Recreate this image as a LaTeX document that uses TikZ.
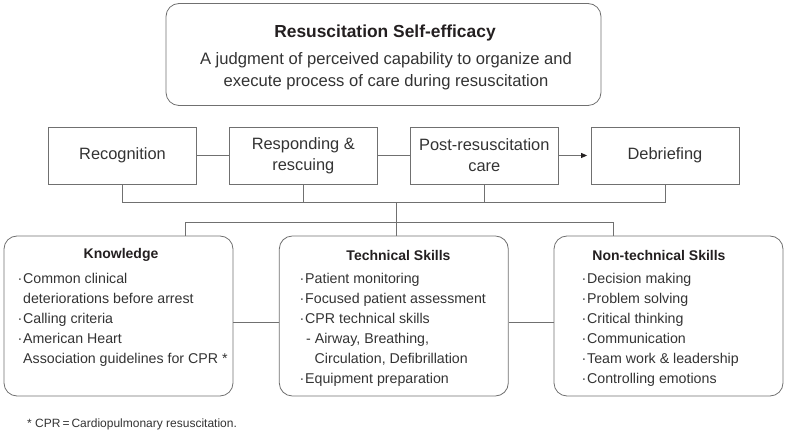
\documentclass[tikz,border=0pt]{standalone}
\usepackage{fontspec}
\setmainfont{Liberation Sans}
\usetikzlibrary{arrows.meta}
\definecolor{linegray}{HTML}{707070}
\definecolor{textgray}{HTML}{333333}
\definecolor{headblack}{HTML}{231F20}
\newcommand{\bulletdot}{\makebox[5.5pt][l]{\textperiodcentered}}
\newcommand{\contind}{\hspace*{5.5pt}}

\begin{document}
\begin{tikzpicture}[x=1pt,y=-1pt,
    line/.style={draw=linegray,line width=0.8pt},
    stagebox/.style={line,minimum width=148pt,minimum height=57pt,
        inner sep=0pt,align=center,text=textgray,
        font=\fontsize{16.4}{21}\selectfont},
    domainbox/.style={line,rounded corners=13pt,minimum width=229pt,
        minimum height=160pt,inner sep=0pt},
    heading/.style={text=headblack,inner sep=0pt,
        font=\bfseries\fontsize{14}{20}\selectfont},
    itemlist/.style={anchor=north west,align=left,inner sep=0pt,
        text=textgray,font=\fontsize{14.2}{20}\selectfont}]

    \useasboundingbox (0,0) rectangle (788,438);

    % Self-efficacy box
    \node [line,rounded corners=13pt,
        minimum width=435pt,
        minimum height=102pt] (efficacy) at (383.5,54.5){};
    \node [text=headblack,inner sep=0pt,
        font=\bfseries\fontsize{17.4}{21}\selectfont] (efftitle) at (385,33)
        {Resuscitation Self-efficacy};
    \node [text=textgray,inner sep=0pt,align=center,
        font=\fontsize{16.6}{22}\selectfont] (effdesc) at (386,71)
        {A judgment of perceived capability to organize and\\
         execute process of care during resuscitation};

    % Stages of resuscitation
    \node [stagebox] (recog) at (122.5,155.5) {Recognition};
    \node [stagebox] (respond) at (303.3,155.5) {Responding \&\\rescuing};
    \node [stagebox] (post) at (484.3,155.5) {Post-resuscitation\\care};
    \node [stagebox] (debrief) at (665,155.5) {Debriefing};

    \draw[line] (recog) -- (respond);
    \draw[line] (respond) -- (post);
    \draw[line,-{Triangle[length=6pt,width=5pt,color=headblack]},shorten >=3.5pt]
        (post) -- (debrief);

    % Bracket under the stages
    \draw[line] (recog.south) -- ++(0,18.5) -| (debrief.south);
    \draw[line] (respond.south) -- ++(0,18.5);
    \draw[line] (post.south) -- ++(0,18.5);

    % Domain boxes
    \node [domainbox] (know) at (118.5,316) {};
    \node [domainbox] (tech) at (393.8,316) {};
    \node [domainbox] (nontech) at (668.5,316) {};

    \coordinate (hub) at (396.5,202.5);
    \coordinate (kstem) at (185.5,222.5);
    \coordinate (nstem) at (613,222.5);
    \draw[line] (hub) -- (hub |- tech.north);
    \draw[line] (kstem |- know.north) -- (kstem) -- (nstem) -- (nstem |- nontech.north);
    \draw[line] (know.east |- 0,322) -- (tech.west |- 0,322);
    \draw[line] (tech.east |- 0,322) -- (nontech.west |- 0,322);

    % Knowledge
    \node [heading] (knowhead) at (121,255) {Knowledge};
    \node [itemlist] (knowlist) at (17.5,273.5)
        {\bulletdot Common clinical\\
         \contind deteriorations before arrest\\
         \bulletdot Calling criteria\\
         \bulletdot American Heart\\
         \contind Association guidelines for CPR *};

    % Technical skills
    \node [heading] (techhead) at (398.5,255) {Technical Skills};
    \node [itemlist] (techlist) at (299.5,273.5)
        {\bulletdot Patient monitoring\\
         \bulletdot Focused patient assessment\\
         \bulletdot CPR technical skills\\
         \contind\hspace*{1pt}- Airway, Breathing,\\
         \contind\hspace*{9.5pt}Circulation, Defibrillation\\
         \bulletdot Equipment preparation};

    % Non-technical skills
    \node [heading] (nontechhead) at (659,255) {Non-technical Skills};
    \node [itemlist] (nontechlist) at (581.5,273.5)
        {\bulletdot Decision making\\
         \bulletdot Problem solving\\
         \bulletdot Critical thinking\\
         \bulletdot Communication\\
         \bulletdot Team work \& leadership\\
         \bulletdot Controlling emotions};

    % Footnote
    \node [anchor=west,inner sep=0pt,text=textgray,
        font=\fontsize{12}{14}\selectfont] (footnote) at (27,424)
        {* CPR\,=\,Cardiopulmonary resuscitation.};

\end{tikzpicture}
\end{document}
